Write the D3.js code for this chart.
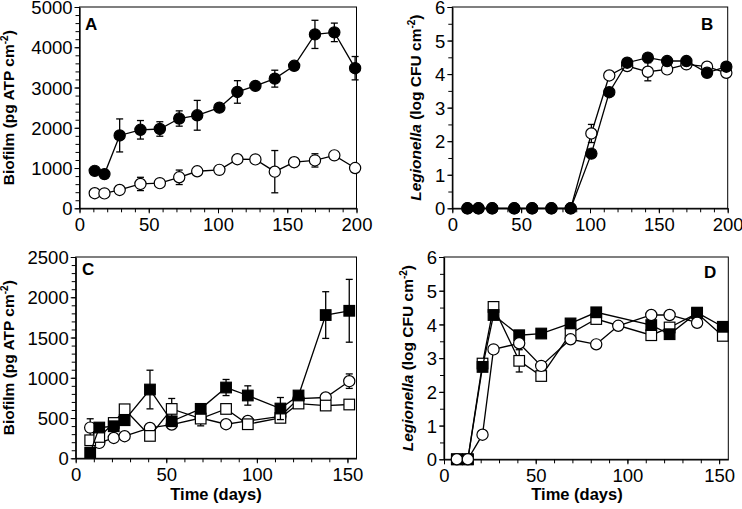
<!DOCTYPE html>
<html><head><meta charset="utf-8">
<script src="https://cdn.jsdelivr.net/npm/d3@7"></script>
<style>body{margin:0;background:#fff} svg{display:block} text{font-family:"Liberation Sans",Arial,sans-serif;fill:#000}</style>
</head><body><svg id="c" width="742" height="509"></svg>
<script>
// ---- Panel A: biofilm (pg ATP cm-2) ----
const aDays = [11,18,29,44,58,72,85,101,114,127,141,155,170,184,199];
const aFilled = [930,850,1810,1950,1970,2230,2310,2500,2890,3040,3220,3540,4320,4370,3480];
const aFilledErr = [0,0,410,230,180,190,370,0,280,0,210,0,350,230,290];
const aOpen = [375,370,455,605,625,770,920,955,1220,1215,910,1145,1190,1315,1000];
const aOpenErr = [0,0,0,165,0,180,100,0,0,0,525,110,165,0,0];
// ---- Panel B: Legionella (log CFU cm-2) ----
const bDays = [11,19,29,45,58,72,86,101,114,127,142,156,170,185,199];
const bFilled = [0,0,0,0,0,0,0,1.63,3.46,4.34,4.49,4.39,4.39,4.04,4.22];
const bFilledErr = [0,0,0,0,0,0,0,0,0,0,0,0,0,0,0];
const bOpen = [0,0,0,0,0,0,0,2.23,3.96,4.24,4.07,4.14,4.29,4.22,4.04];
const bOpenErr = [0,0,0,0,0,0,0,0.27,0,0,0.27,0,0,0,0];
// ---- Panel C: biofilm ----
const cDays = [8,13,21,27,41,53,69,83,95,113,123,138,151];
const cFilledSq = [70,382,398,473,854,460,614,879,780,618,780,1779,1832];
const cFilledSqErr = [0,0,0,0,240,0,0,100,120,137,0,290,390];
const cOpenSq = [224,265,439,609,278,613,493,613,423,502,680,655,668];
const cOpenSqErr = [0,0,0,0,0,130,90,0,0,0,0,0,0];
const cOpenCirc = [381,191,253,274,377,419,500,423,464,522,742,755,958];
const cOpenCircErr = [110,0,0,0,0,0,0,0,0,0,0,0,90];
// ---- Panel D: Legionella ----
const dSqDays = [7,13,21,27,41,53,69,83,113,123,138,152];
const dFilledSq = [0,0,2.74,4.28,3.68,3.73,4.03,4.36,3.98,3.71,4.35,3.93];
const dFilledSqErr = [0,0,0,0,0,0,0,0,0,0,0,0];
const dOpenSq = [0,0,2.84,4.52,2.92,2.47,3.73,4.16,3.68,3.91,4.33,3.66];
const dOpenSqErr = [0,0,0,0.15,0.33,0,0,0,0,0,0,0];
const dCircDays = [7,13,21,27,41,53,69,83,95,113,123,138];
const dOpenCirc = [0,0,0.73,3.26,3.44,2.77,3.56,3.41,3.96,4.28,4.28,4.05];
const dOpenCircErr = [0,0,0,0,0,0,0,0,0,0,0,0];
// ---- ticks ----
const xTicks200 = [0,50,100,150,200];
const xTicks150 = [0,50,100,150];
const yTicksBiofilmA = [0,1000,2000,3000,4000,5000];
const yTicksBiofilmC = [0,500,1000,1500,2000,2500];
const yTicksLog = [0,1,2,3,4,5,6];

const svg = d3.select("#c");

function panel(o){
  const x = d3.scaleLinear().domain(o.xDomain).range([o.left,o.right]);
  const y = d3.scaleLinear().domain(o.yDomain).range([o.bottom,o.top]);
  const g = svg.append("g");
  g.append("rect").attr("x",o.left).attr("y",o.top).attr("width",o.right-o.left).attr("height",o.bottom-o.top)
    .attr("fill","none").attr("stroke","#000").attr("stroke-width",1);
  const xMinor = d3.range(o.xDomain[0], o.xDomain[1]+0.001, o.xMinor);
  const yMinor = d3.range(o.yDomain[0], o.yDomain[1]+1e-6, o.yMinor);
  g.append("g").attr("transform",`translate(0,${o.bottom})`)
    .call(d3.axisBottom(x).tickValues(xMinor).tickSize(4).tickFormat(""))
    .call(s=>s.select(".domain").remove());
  g.append("g").attr("transform",`translate(${o.left},0)`)
    .call(d3.axisLeft(y).tickValues(yMinor).tickSize(4).tickFormat(""))
    .call(s=>s.select(".domain").remove());
  const ax = g.append("g").attr("transform",`translate(0,${o.bottom})`)
    .call(d3.axisBottom(x).tickValues(o.xTicks).tickSize(5).tickPadding(5).tickSizeOuter(0).tickFormat(d3.format("d")));
  const ay = g.append("g").attr("transform",`translate(${o.left},0)`)
    .call(d3.axisLeft(y).tickValues(o.yTicks).tickSize(5).tickPadding(2).tickSizeOuter(0).tickFormat(d3.format("d")));
  [ax,ay].forEach(a=>{
    a.selectAll("text").attr("font-size",18.5).attr("font-family","Liberation Sans, Arial, sans-serif").attr("fill","#000");
    a.select(".domain").attr("stroke-width",1.3);
  });
  ay.selectAll("text").attr("dy","0.36em");
  const t = g.append("text").attr("transform",`translate(${o.ytX},${(o.top+o.bottom)/2}) rotate(-90)`)
    .attr("text-anchor","middle").attr("font-size",15.5).attr("font-weight","bold");
  if(o.italic){ t.append("tspan").attr("font-style","italic").text(o.italic); }
  t.append("tspan").text(o.ytitle);
  t.append("tspan").attr("font-size",10).attr("dy",-6).text("-2");
  t.append("tspan").attr("dy",6).text(")");
  g.append("text").attr("x",o.lx).attr("y",o.ly).attr("font-size",17).attr("font-weight","bold").text(o.letter);
  if(o.xtitle){
    g.append("text").attr("x",o.xtX).attr("y",o.xtY).attr("text-anchor","middle")
      .attr("font-size",16.5).attr("font-weight","bold").text(o.xtitle);
  }
  o.series.forEach(s=>{
    const pts = s.days.map((d,i)=>({x:d,y:s.vals[i],e:s.err?s.err[i]:0}));
    g.append("path").datum(pts).attr("fill","none").attr("stroke","#000").attr("stroke-width",1.3)
      .attr("d",d3.line().x(d=>x(d.x)).y(d=>y(d.y)));
    const eb = g.append("g").attr("stroke","#000").attr("stroke-width",1.3);
    pts.filter(p=>p.e>0).forEach(p=>{
      const x0=x(p.x), yt=y(p.y+p.e), yb=y(p.y-p.e);
      eb.append("line").attr("x1",x0).attr("x2",x0).attr("y1",yt).attr("y2",yb);
      eb.append("line").attr("x1",x0-3.5).attr("x2",x0+3.5).attr("y1",yt).attr("y2",yt);
      eb.append("line").attr("x1",x0-3.5).attr("x2",x0+3.5).attr("y1",yb).attr("y2",yb);
    });
    const fill = s.filled ? "#000" : "#fff";
    if(s.shape==="circle"){
      g.append("g").selectAll("circle").data(pts).join("circle")
        .attr("cx",d=>x(d.x)).attr("cy",d=>y(d.y)).attr("r",5.6)
        .attr("fill",fill).attr("stroke","#000").attr("stroke-width",1.2);
    } else {
      g.append("g").selectAll("rect").data(pts).join("rect")
        .attr("x",d=>x(d.x)-5.3).attr("y",d=>y(d.y)-5.3).attr("width",10.6).attr("height",10.6)
        .attr("fill",fill).attr("stroke","#000").attr("stroke-width",1.2);
    }
  });
}

panel({left:79.5,right:356.5,top:7,bottom:208.3,xDomain:[0,200],yDomain:[0,5000],xTicks:xTicks200,yTicks:yTicksBiofilmA,
  xMinor:10,yMinor:200,ytX:14,ytitle:"Biofilm (pg ATP cm",letter:"A",lx:85,ly:30,
  series:[{days:aDays,vals:aOpen,err:aOpenErr,shape:"circle",filled:false},
          {days:aDays,vals:aFilled,err:aFilledErr,shape:"circle",filled:true}]});
panel({left:452.3,right:727.7,top:7,bottom:208.3,xDomain:[0,200],yDomain:[0,6],xTicks:xTicks200,yTicks:yTicksLog,
  xMinor:10,yMinor:0.5,ytX:420.5,italic:"Legionella",ytitle:" (log CFU cm",letter:"B",lx:701,ly:30,
  series:[{days:bDays,vals:bOpen,err:bOpenErr,shape:"circle",filled:false},
          {days:bDays,vals:bFilled,err:bFilledErr,shape:"circle",filled:true}]});
panel({left:75.7,right:356.5,top:257,bottom:458.3,xDomain:[0,155],yDomain:[0,2500],xTicks:xTicks150,yTicks:yTicksBiofilmC,
  xMinor:10,yMinor:100,ytX:14,ytitle:"Biofilm (pg ATP cm",letter:"C",lx:82,ly:275,xtitle:"Time (days)",xtX:216,xtY:500,
  series:[{days:cDays,vals:cOpenCirc,err:cOpenCircErr,shape:"circle",filled:false},
          {days:cDays,vals:cOpenSq,err:cOpenSqErr,shape:"square",filled:false},
          {days:cDays,vals:cFilledSq,err:cFilledSqErr,shape:"square",filled:true}]});
panel({left:444,right:728.3,top:257,bottom:459.3,xDomain:[0,155],yDomain:[0,6],xTicks:xTicks150,yTicks:yTicksLog,
  xMinor:10,yMinor:0.5,ytX:413,italic:"Legionella",ytitle:" (log CFU cm",letter:"D",lx:704,ly:278,xtitle:"Time (days)",xtX:577,xtY:500,
  series:[{days:dSqDays,vals:dOpenSq,err:dOpenSqErr,shape:"square",filled:false},
          {days:dSqDays,vals:dFilledSq,err:dFilledSqErr,shape:"square",filled:true},
          {days:dCircDays,vals:dOpenCirc,err:dOpenCircErr,shape:"circle",filled:false}]});
</script></body></html>
